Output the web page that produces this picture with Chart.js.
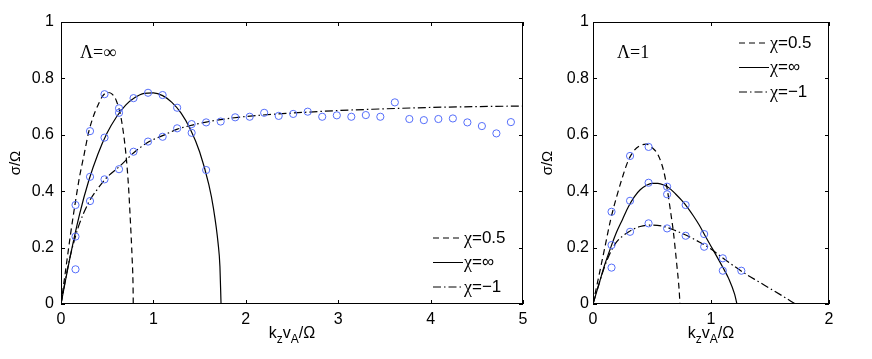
<!DOCTYPE html>
<html>
<head>
<meta charset="utf-8">
<script src="https://cdn.jsdelivr.net/npm/chart.js@4.4.1/dist/chart.umd.min.js"></script>
<style>
  body { margin: 0; background: #fff; width: 872px; height: 359px; position: relative; overflow: hidden; }
  canvas { position: absolute; top: 0; }
  #c1 { left: 0; }
  #c2 { left: 535px; }
</style>
</head>
<body>
<canvas id="c1" width="535" height="359"></canvas>
<canvas id="c2" width="337" height="359"></canvas>
<script>
// ---- Λ=∞ panel ----
const infK05 = [0, 0.05, 0.1, 0.15, 0.2, 0.25, 0.3, 0.35, 0.4, 0.45, 0.5, 0.55, 0.6, 0.65, 0.7, 0.73, 0.75, 0.77, 0.78, 0.782];
const infS05 = [0, 0.12, 0.24, 0.35, 0.45, 0.53, 0.61, 0.665, 0.705, 0.737, 0.75, 0.745, 0.72, 0.66, 0.54, 0.42, 0.30, 0.16, 0.06, 0];
const infKinf = [0, 0.05, 0.1, 0.2, 0.3, 0.4, 0.5, 0.6, 0.7, 0.8, 0.9, 1.0, 1.1, 1.2, 1.3, 1.4, 1.5, 1.6, 1.65, 1.7, 1.72, 1.732];
const infSinf = [0, 0.086, 0.169, 0.317, 0.437, 0.532, 0.607, 0.663, 0.705, 0.732, 0.747, 0.749, 0.739, 0.715, 0.677, 0.620, 0.540, 0.423, 0.339, 0.216, 0.133, 0];
const infKm1 = [0, 0.05, 0.1, 0.157, 0.2, 0.3, 0.4, 0.5, 0.63, 0.8, 0.95, 1.1, 1.26, 1.4, 1.57, 1.75, 2, 2.5, 3, 3.5, 4, 4.5, 5];
const infSm1 = [0, 0.09, 0.17, 0.24, 0.285, 0.36, 0.41, 0.45, 0.487, 0.54, 0.575, 0.597, 0.62, 0.633, 0.645, 0.655, 0.665, 0.677, 0.686, 0.692, 0.697, 0.70, 0.702];
const infSimK = [0.157, 0.157, 0.157, 0.314, 0.314, 0.314, 0.471, 0.471, 0.471, 0.628, 0.628, 0.628,
  0.785, 0.785, 0.942, 0.942, 1.100, 1.100, 1.257, 1.257, 1.414, 1.414, 1.571, 1.571,
  1.728, 1.885, 2.042, 2.199, 2.356, 2.513, 2.670, 2.827, 2.985, 3.142, 3.299, 3.456, 3.613,
  3.770, 3.927, 4.084, 4.241, 4.398, 4.555, 4.712, 4.869];
const infSimS = [0.351, 0.239, 0.123, 0.613, 0.451, 0.365, 0.744, 0.590, 0.442, 0.694, 0.678, 0.478,
  0.730, 0.540, 0.749, 0.576, 0.741, 0.593, 0.696, 0.623, 0.638, 0.607, 0.475, 0.644,
  0.647, 0.662, 0.664, 0.678, 0.667, 0.674, 0.682, 0.664, 0.669, 0.664, 0.670, 0.664, 0.715,
  0.656, 0.652, 0.656, 0.658, 0.644, 0.631, 0.605, 0.645];

// ---- Λ=1 panel ----
const oneK05 = [0, 0.05, 0.1, 0.15, 0.2, 0.25, 0.3, 0.35, 0.4, 0.45, 0.5, 0.55, 0.6, 0.63, 0.66, 0.68, 0.71, 0.73, 0.737];
const oneS05 = [0, 0.1, 0.2, 0.3, 0.38, 0.45, 0.51, 0.545, 0.562, 0.567, 0.555, 0.53, 0.47, 0.405, 0.32, 0.26, 0.14, 0.05, 0];
const oneKinf = [0, 0.05, 0.1, 0.15, 0.2, 0.25, 0.3, 0.35, 0.4, 0.45, 0.5, 0.55, 0.6, 0.65, 0.7, 0.75, 0.8, 0.85, 0.9, 0.95, 1.0, 1.05, 1.1, 1.15, 1.2, 1.22];
const oneSinf = [0, 0.07, 0.14, 0.2, 0.255, 0.3, 0.345, 0.38, 0.405, 0.42, 0.428, 0.428, 0.422, 0.41, 0.39, 0.368, 0.343, 0.313, 0.28, 0.242, 0.205, 0.168, 0.13, 0.09, 0.035, 0];
const oneKm1 = [0, 0.05, 0.1, 0.15, 0.2, 0.3, 0.4, 0.5, 0.6, 0.7, 0.8, 0.9, 1.0, 1.1, 1.2, 1.3, 1.4, 1.5, 1.6, 1.715];
const oneSm1 = [0, 0.07, 0.135, 0.185, 0.22, 0.255, 0.275, 0.28, 0.275, 0.26, 0.242, 0.22, 0.195, 0.163, 0.133, 0.105, 0.08, 0.055, 0.03, 0];
const oneSimK = [0.157, 0.157, 0.157, 0.314, 0.314, 0.314, 0.471, 0.471, 0.471, 0.628, 0.628, 0.628,
  0.785, 0.785, 0.942, 0.942, 1.100, 1.100, 1.257];
const oneSimS = [0.327, 0.209, 0.129, 0.525, 0.366, 0.256, 0.557, 0.430, 0.286, 0.416, 0.389, 0.268,
  0.351, 0.242, 0.248, 0.203, 0.162, 0.118, 0.118];

const yTicks = [0, 0.2, 0.4, 0.6, 0.8, 1];
const legendLabels = ["0.5", "∞", "−1"];

const SANS = '"Liberation Sans", Arial, sans-serif';
const SERIF = '"Liberation Serif", "Times New Roman", serif';
const circleColor = 'rgb(85,110,250)';
const dashes = [[6, 4], [], [8, 3, 1.5, 3]];

function pts(xs, ys) { return xs.map((x, i) => ({ x: x, y: ys[i] })); }

// box, inward ticks, titles, legend, panel label
const decor = {
  id: 'decor',
  afterDraw(chart, args, o) {
    const ctx = chart.ctx, a = chart.chartArea;
    const xs = chart.scales.x, ys = chart.scales.y;
    ctx.save();
    ctx.strokeStyle = '#000';
    ctx.lineWidth = 1;
    ctx.setLineDash([]);
    ctx.strokeRect(Math.round(a.left) + 0.5, Math.round(a.top) + 0.5,
      Math.round(a.right - a.left) - 1, Math.round(a.bottom - a.top) - 1);
    ctx.beginPath();
    xs.ticks.forEach(t => {
      const px = Math.round(xs.getPixelForValue(t.value)) + 0.5;
      ctx.moveTo(px, a.bottom); ctx.lineTo(px, a.bottom - 4);
      ctx.moveTo(px, a.top); ctx.lineTo(px, a.top + 4);
    });
    ys.ticks.forEach(t => {
      const py = Math.round(ys.getPixelForValue(t.value)) + 0.5;
      ctx.moveTo(a.left, py); ctx.lineTo(a.left + 4, py);
      ctx.moveTo(a.right, py); ctx.lineTo(a.right - 4, py);
    });
    ctx.stroke();

    ctx.fillStyle = '#000';
    // y title
    ctx.save();
    ctx.translate(o.yTitleX, (a.top + a.bottom) / 2);
    ctx.rotate(-Math.PI / 2);
    ctx.font = '15px ' + SANS;
    ctx.textAlign = 'center';
    ctx.textBaseline = 'middle';
    ctx.fillText('σ/Ω', 0, 0);
    ctx.restore();

    // x title k_z v_A / Ω
    const parts = [['k', 16, 0], ['z', 12, 5], ['v', 16, 0], ['A', 12, 5], ['/Ω', 16, 0]];
    let w = 0;
    parts.forEach(p => { ctx.font = p[1] + 'px ' + SANS; w += ctx.measureText(p[0]).width; });
    let cx = (a.left + a.right) / 2 - w / 2;
    ctx.textAlign = 'left';
    ctx.textBaseline = 'alphabetic';
    parts.forEach(p => {
      ctx.font = p[1] + 'px ' + SANS;
      ctx.fillText(p[0], cx, 338 + p[2]);
      cx += ctx.measureText(p[0]).width;
    });

    // panel label
    ctx.font = '18px ' + SERIF;
    ctx.fillText(o.label, o.labelX, 58);

    // legend
    const lines = chart.data.datasets.filter(d => d.showLine);
    lines.forEach((d, i) => {
      const y = o.legY + i * 24.5;
      ctx.beginPath();
      ctx.lineWidth = 1;
      ctx.setLineDash(d.borderDash || []);
      ctx.moveTo(o.legX, y); ctx.lineTo(o.legX + 30, y);
      ctx.stroke();
      ctx.setLineDash([]);
      ctx.textBaseline = 'middle';
      ctx.font = '18px ' + SERIF;
      ctx.fillText('χ', o.legX + 31, y + 1);
      const cw = ctx.measureText('χ').width;
      ctx.font = '17px ' + SANS;
      ctx.fillText('=' + d.label, o.legX + 31 + cw, y);
    });
    ctx.restore();
  }
};

function makeChart(id, curves, simK, simS, xMax, pad, deco) {
  const datasets = curves.map((c, i) => ({
    label: legendLabels[i],
    data: pts(c[0], c[1]),
    showLine: true,
    borderColor: '#000',
    borderWidth: 1.2,
    borderDash: dashes[i],
    pointRadius: 0,
    cubicInterpolationMode: 'monotone',
    order: 2
  }));
  datasets.push({
    label: 'sim',
    data: pts(simK, simS),
    showLine: false,
    pointStyle: 'circle',
    pointRadius: 3.6,
    pointBorderWidth: 1,
    pointBorderColor: circleColor,
    pointBackgroundColor: 'rgba(0,0,0,0)',
    order: 1
  });
  return new Chart(document.getElementById(id), {
    type: 'scatter',
    data: { datasets: datasets },
    options: {
      responsive: false,
      animation: false,
      layout: { padding: { left: 0, top: 22, right: pad.right, bottom: 0 } },
      plugins: { legend: { display: false }, tooltip: { enabled: false }, decor: deco },
      scales: {
        x: {
          type: 'linear', min: 0, max: xMax,
          grid: { display: false, drawTicks: false },
          border: { display: false },
          afterFit: s => { s.height = 55; },
          ticks: { stepSize: 1, padding: 6, color: '#000', font: { family: SANS, size: 16 } }
        },
        y: {
          type: 'linear', min: 0, max: 1,
          grid: { display: false, drawTicks: false },
          border: { display: false },
          afterFit: s => { s.width = pad.left; },
          afterBuildTicks: s => { s.ticks = yTicks.map(v => ({ value: v })); },
          ticks: { padding: pad.tick, color: '#000', font: { family: SANS, size: 16 },
            callback: v => String(+v.toFixed(1)) }
        }
      }
    },
    plugins: [decor]
  });
}

makeChart('c1',
  [[infK05, infS05], [infKinf, infSinf], [infKm1, infSm1]],
  infSimK, infSimS, 5,
  { left: 61, right: 12, tick: 7 },
  { yTitleX: 16, label: 'Λ=∞', labelX: 80, legX: 433, legY: 238 });

makeChart('c2',
  [[oneK05, oneS05], [oneKinf, oneSinf], [oneKm1, oneSm1]],
  oneSimK, oneSimS, 2,
  { left: 58, right: 43, tick: 4 },
  { yTitleX: 13, label: 'Λ=1', labelX: 82, legX: 204, legY: 43 });
</script>
</body>
</html>
